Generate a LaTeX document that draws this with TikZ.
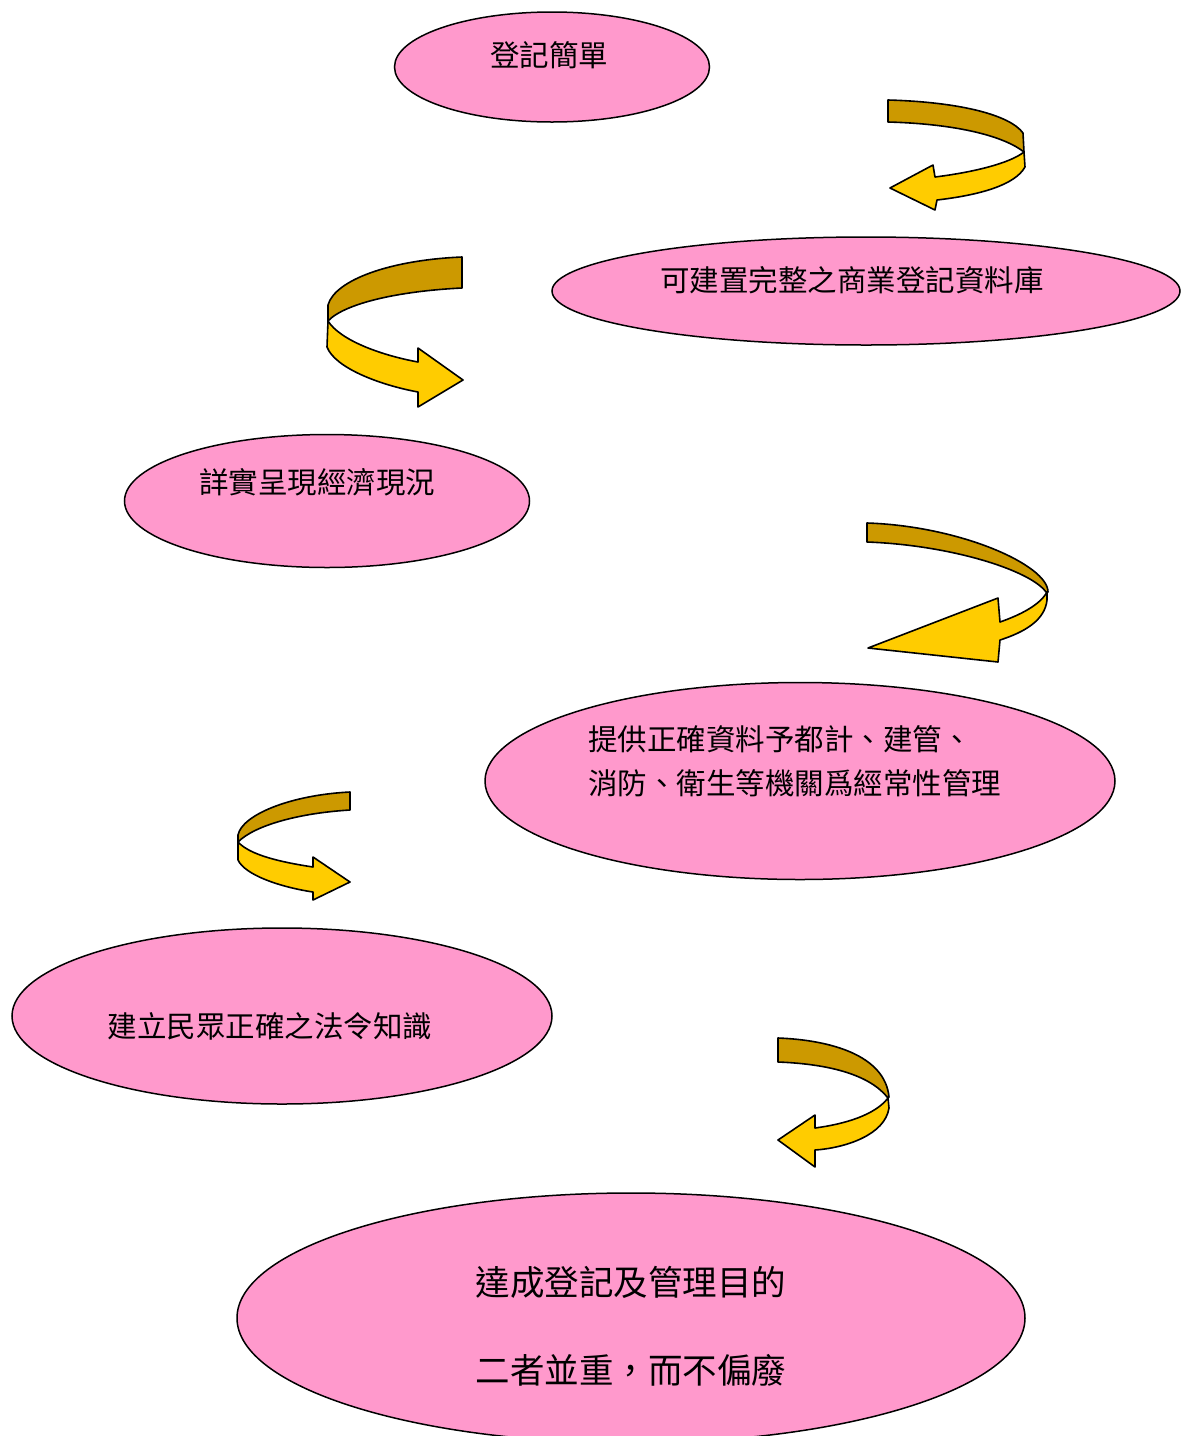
\documentclass[tikz,border=0pt]{standalone}
\usepackage{fontspec}
\setmainfont{Noto Sans CJK TC}
\usetikzlibrary{shapes.geometric}
\definecolor{pinkfill}{HTML}{FF99CC}
\definecolor{golddark}{HTML}{CC9900}
\definecolor{goldlight}{HTML}{FFCC00}
\begin{document}
\begin{tikzpicture}[x=1pt,y=-1pt,
  ell/.style={ellipse, draw=black, line width=1.5pt, fill=pinkfill, inner sep=0pt},
  lbl/.style={inner sep=0pt, font=\fontsize{29.5}{44}\selectfont, text=black},
  biglbl/.style={inner sep=0pt, font=\fontsize{34.5}{88}\selectfont, text=black, align=center},
  backband/.style={fill=golddark, draw=black, line width=1.6pt, line join=round},
  frontband/.style={fill=goldlight, draw=black, line width=1.6pt, line join=round}]
\fill[white] (0,0) rectangle (1182,1436);
\useasboundingbox (0,0) rectangle (1182,1436);

% ellipses
\node[ell, minimum width=315pt, minimum height=110pt] (e1) at (552,67) {};
\node[ell, minimum width=628pt, minimum height=108pt] (e2) at (866,291) {};
\node[ell, minimum width=405pt, minimum height=133pt] (e3) at (327,501) {};
\node[ell, minimum width=630pt, minimum height=197pt] (e4) at (800,781) {};
\node[ell, minimum width=540pt, minimum height=176pt] (e5) at (282,1016) {};
\node[ell, minimum width=788pt, minimum height=250pt] (e6) at (631,1318) {};

% labels
\node[lbl] (t1) at (549,55) {登記簡單};
\node[lbl] (t2) at (852,280) {可建置完整之商業登記資料庫};
\node[lbl] (t3) at (317,482) {詳實呈現經濟現況};
\node[lbl, anchor=west, align=left] (t4) at (588,761) {提供正確資料予都計、建管、\\消防、衛生等機關爲經常性管理};
\node[lbl] (t5) at (270,1026) {建立民眾正確之法令知識};
\node[biglbl] (t6) at (631,1326) {達成登記及管理目的\\二者並重，而不偏廢};

% arrow 1 (points left, curls right)
\draw[backband] (888,100) .. controls (960,102) and (1010,115) .. (1023,133)
  -- (1024,152) .. controls (1005,137) and (960,124) .. (888,122) -- cycle;
\draw[frontband] (1024,152) -- (1025,167) .. controls (1015,185) and (980,195) .. (937,200)
  -- (935,210) -- (890,188) -- (933,165) -- (935,177)
  .. controls (975,172) and (1010,163) .. (1024,152) -- cycle;

% arrow 2 (points right, curls left)
\draw[backband] (462,257) -- (462,288) .. controls (400,291) and (345,303) .. (328,321)
  -- (328,305) .. controls (335,280) and (390,260) .. (462,257) -- cycle;
\draw[frontband] (328,321) -- (327,347) .. controls (335,368) and (380,385) .. (418,392)
  -- (418,407) -- (463,380) -- (418,348) -- (418,362)
  .. controls (380,355) and (340,340) .. (328,321) -- cycle;

% arrow 3 (points left, big head)
\draw[backband] (867,523) .. controls (960,526) and (1048,565) .. (1048,592)
  -- (1046,592) .. controls (1030,570) and (950,545) .. (867,542) -- cycle;
\draw[frontband] (1047,592) -- (1047,600) .. controls (1045,620) and (1025,632) .. (1000,640)
  -- (998,662) -- (868,648) -- (998,598) -- (1000,622)
  .. controls (1020,615) and (1040,605) .. (1047,592) -- cycle;

% arrow 4 (points right, small)
\draw[backband] (350,792) -- (350,810) .. controls (300,813) and (255,825) .. (238,842)
  -- (238,835) .. controls (242,815) and (290,795) .. (350,792) -- cycle;
\draw[frontband] (238,842) -- (238,860) .. controls (245,875) and (280,887) .. (313,892)
  -- (313,900) -- (350,882) -- (313,857) -- (313,867)
  .. controls (280,862) and (250,855) .. (238,842) -- cycle;

% arrow 5 (points left, small)
\draw[backband] (778,1038) .. controls (830,1040) and (885,1055) .. (889,1097)
  -- (888,1098) .. controls (870,1075) and (830,1064) .. (778,1062) -- cycle;
\draw[frontband] (888,1098) -- (889,1108) .. controls (885,1135) and (845,1148) .. (815,1150)
  -- (815,1167) -- (778,1140) -- (815,1115) -- (815,1128)
  .. controls (845,1124) and (875,1115) .. (888,1098) -- cycle;
\end{tikzpicture}
\end{document}
